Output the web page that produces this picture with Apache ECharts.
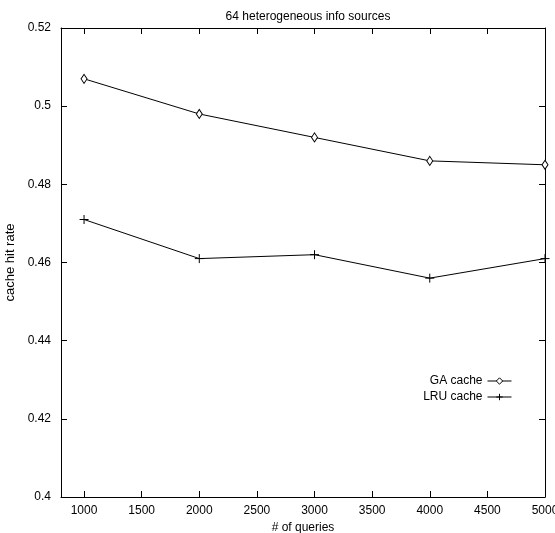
<!DOCTYPE html>
<html><head><meta charset="utf-8">
<script src="https://cdn.jsdelivr.net/npm/echarts@6/dist/echarts.min.js"></script>
<style>html,body{margin:0;padding:0;background:#fff}#c{width:555px;height:533px}</style>
</head><body><div id="c"></div>
<script>
const queries = [1000, 2000, 3000, 4000, 5000];
const gaCache = [0.507, 0.498, 0.492, 0.486, 0.485];
const lruCache = [0.471, 0.461, 0.462, 0.456, 0.461];
const xTicks = [1000, 1500, 2000, 2500, 3000, 3500, 4000, 4500, 5000];

const font = 'Liberation Sans, Arial, Helvetica, sans-serif';
const chart = echarts.init(document.getElementById('c'), null, {renderer: 'canvas'});
const plusPath = 'path://M0,5L10,5M5,0L5,10';
const xAxisBase = {
  type: 'value', min: 800, max: 5000,
  axisLine: {show: true, lineStyle: {color: '#000', width: 1}},
  splitLine: {show: false},
};
const yAxisBase = {
  type: 'value', min: 0.4, max: 0.52, interval: 0.02,
  axisLine: {show: true, lineStyle: {color: '#000', width: 1}},
  splitLine: {show: false},
};
chart.setOption({
  animation: false,
  backgroundColor: '#fff',
  title: {
    text: '64 heterogeneous info sources', left: 303, textAlign: 'center', top: 6,
    textStyle: {fontFamily: font, fontSize: 12, fontWeight: 'normal', color: '#000'}
  },
  grid: {left: 61, right: 10, top: 28, bottom: 36, containLabel: false, outerBoundsMode: 'none'},
  legend: {
    orient: 'vertical', right: 43, top: 375, align: 'right', padding: 0,
    itemWidth: 24, itemHeight: 8, itemGap: 4,
    lineStyle: {width: 1},
    itemStyle: {borderWidth: 1},
    textStyle: {fontFamily: font, fontSize: 12, color: '#000', padding: [0, 0, 0, 0]},
    data: ['GA cache', 'LRU cache']
  },
  xAxis: [
    Object.assign({}, xAxisBase, {
      position: 'bottom',
      name: '# of queries', nameLocation: 'middle', nameGap: 22,
      nameTextStyle: {fontFamily: font, fontSize: 12, color: '#000'},
      axisTick: {show: true, inside: true, length: 6, customValues: xTicks, lineStyle: {color: '#000'}},
      axisLabel: {show: true, customValues: xTicks, formatter: v => String(v), fontFamily: font, fontSize: 12, color: '#000', margin: 8},
    }),
    Object.assign({}, xAxisBase, {
      position: 'top',
      axisTick: {show: true, inside: true, length: 6, customValues: xTicks, lineStyle: {color: '#000'}},
      axisLabel: {show: false},
    })
  ],
  yAxis: [
    Object.assign({}, yAxisBase, {
      position: 'left',
      name: 'cache hit rate', nameLocation: 'middle', nameGap: 42, nameRotate: 90,
      nameTextStyle: {fontFamily: font, fontSize: 13, color: '#000'},
      axisTick: {show: true, inside: true, length: 6, lineStyle: {color: '#000'}},
      axisLabel: {fontFamily: font, fontSize: 12, color: '#000', margin: 10},
    }),
    Object.assign({}, yAxisBase, {
      position: 'right',
      axisTick: {show: true, inside: true, length: 6, lineStyle: {color: '#000'}},
      axisLabel: {show: false},
    })
  ],
  series: [
    {
      name: 'GA cache', type: 'line',
      data: queries.map((q, i) => [q, gaCache[i]]),
      symbol: 'diamond', symbolSize: [6, 9],
      lineStyle: {color: '#000', width: 1},
      itemStyle: {color: '#fff', borderColor: '#000', borderWidth: 1},
    },
    {
      name: 'LRU cache', type: 'line',
      data: queries.map((q, i) => [q, lruCache[i]]),
      symbol: plusPath, symbolSize: 9,
      lineStyle: {color: '#000', width: 1},
      itemStyle: {color: 'none', borderColor: '#000', borderWidth: 1},
    }
  ]
});
</script></body></html>
